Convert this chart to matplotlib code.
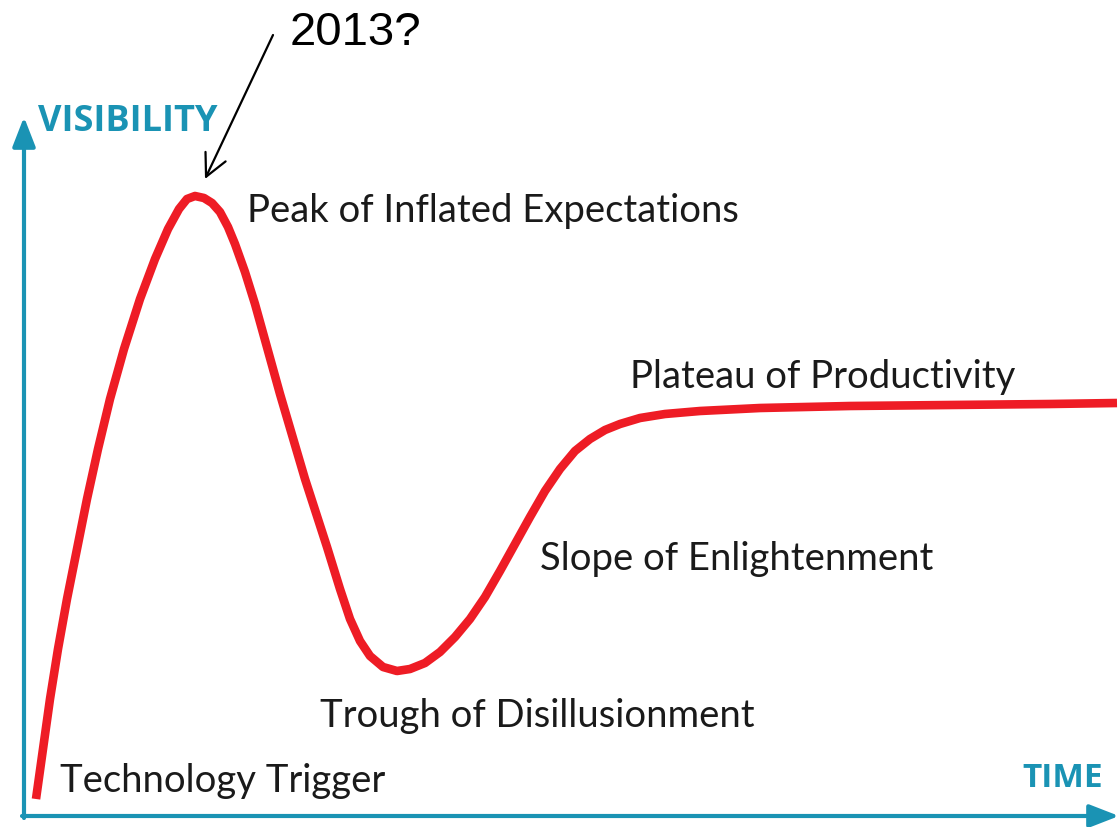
import matplotlib.pyplot as plt

# hype curve (time along x, visibility up)
time_pos = [36, 43, 50, 58, 67, 77, 87, 98, 110, 124, 140, 155, 168, 179, 187, 195,
            204, 212, 220, 228, 235, 245, 255, 280, 305, 327, 340, 350, 360, 370,
            383, 397, 410, 425, 440, 455, 470, 485, 500, 515, 530, 545, 560, 575,
            590, 605, 620, 640, 665, 700, 760, 850, 950, 1050, 1117]
visibility = [28, 78, 128, 178, 228, 278, 328, 378, 428, 478, 528, 568, 598, 618, 628, 631,
              629, 624, 615, 600, 583, 555, 523, 433, 348, 280, 238, 208, 186, 171,
              160, 156, 158, 164, 175, 190, 208, 230, 256, 283, 310, 336, 358, 376,
              388, 397, 403, 409, 413, 416, 419, 421, 422, 423, 424]

phase_names = ["Technology Trigger", "Peak of Inflated Expectations",
               "Trough of Disillusionment", "Slope of Enlightenment",
               "Plateau of Productivity"]
phase_x = [60, 247, 320, 540, 630]
phase_y = [36, 606, 101, 258, 440]

teal = "#1a93b4"
red = "#ee1c25"

fig = plt.figure(figsize=(11.19, 8.28), dpi=100)
ax = fig.add_axes([0, 0, 1, 1])
ax.set_xlim(0, 1119)
ax.set_ylim(0, 828)
ax.axis("off")

# axes with arrow heads
ax.annotate("", xy=(24, 710), xytext=(24, 9),
            arrowprops=dict(arrowstyle="-|>,head_length=1.8,head_width=0.7",
                            lw=3, color=teal, shrinkA=0, shrinkB=0,
                            mutation_scale=10))
ax.annotate("", xy=(1119, 11), xytext=(22, 11),
            arrowprops=dict(arrowstyle="-|>,head_length=1.8,head_width=0.7",
                            lw=3, color=teal, shrinkA=0, shrinkB=0,
                            mutation_scale=10))
ax.text(38, 697, "VISIBILITY", color=teal, fontsize=26, fontweight="bold",
        family="Open Sans", va="baseline")
ax.text(1022, 41, "TIME", color=teal, fontsize=24, fontweight="bold",
        family="Open Sans", va="baseline")

ax.plot(time_pos, visibility, color=red, lw=6.2, solid_joinstyle="round",
        solid_capstyle="butt")

for name, x, y in zip(phase_names, phase_x, phase_y):
    ax.text(x, y, name, fontsize=27.5, family="Lato", color="#1a1a1a", va="baseline")

ax.annotate("", xy=(205, 648), xytext=(273, 792),
            arrowprops=dict(arrowstyle="->,head_length=0.8,head_width=0.4",
                            lw=1.6, color="black", shrinkA=0, shrinkB=0,
                            mutation_scale=20))
ax.text(290, 783, "2013?", fontsize=34, family="Liberation Sans", va="baseline")

fig.savefig("out.png", dpi=100)
